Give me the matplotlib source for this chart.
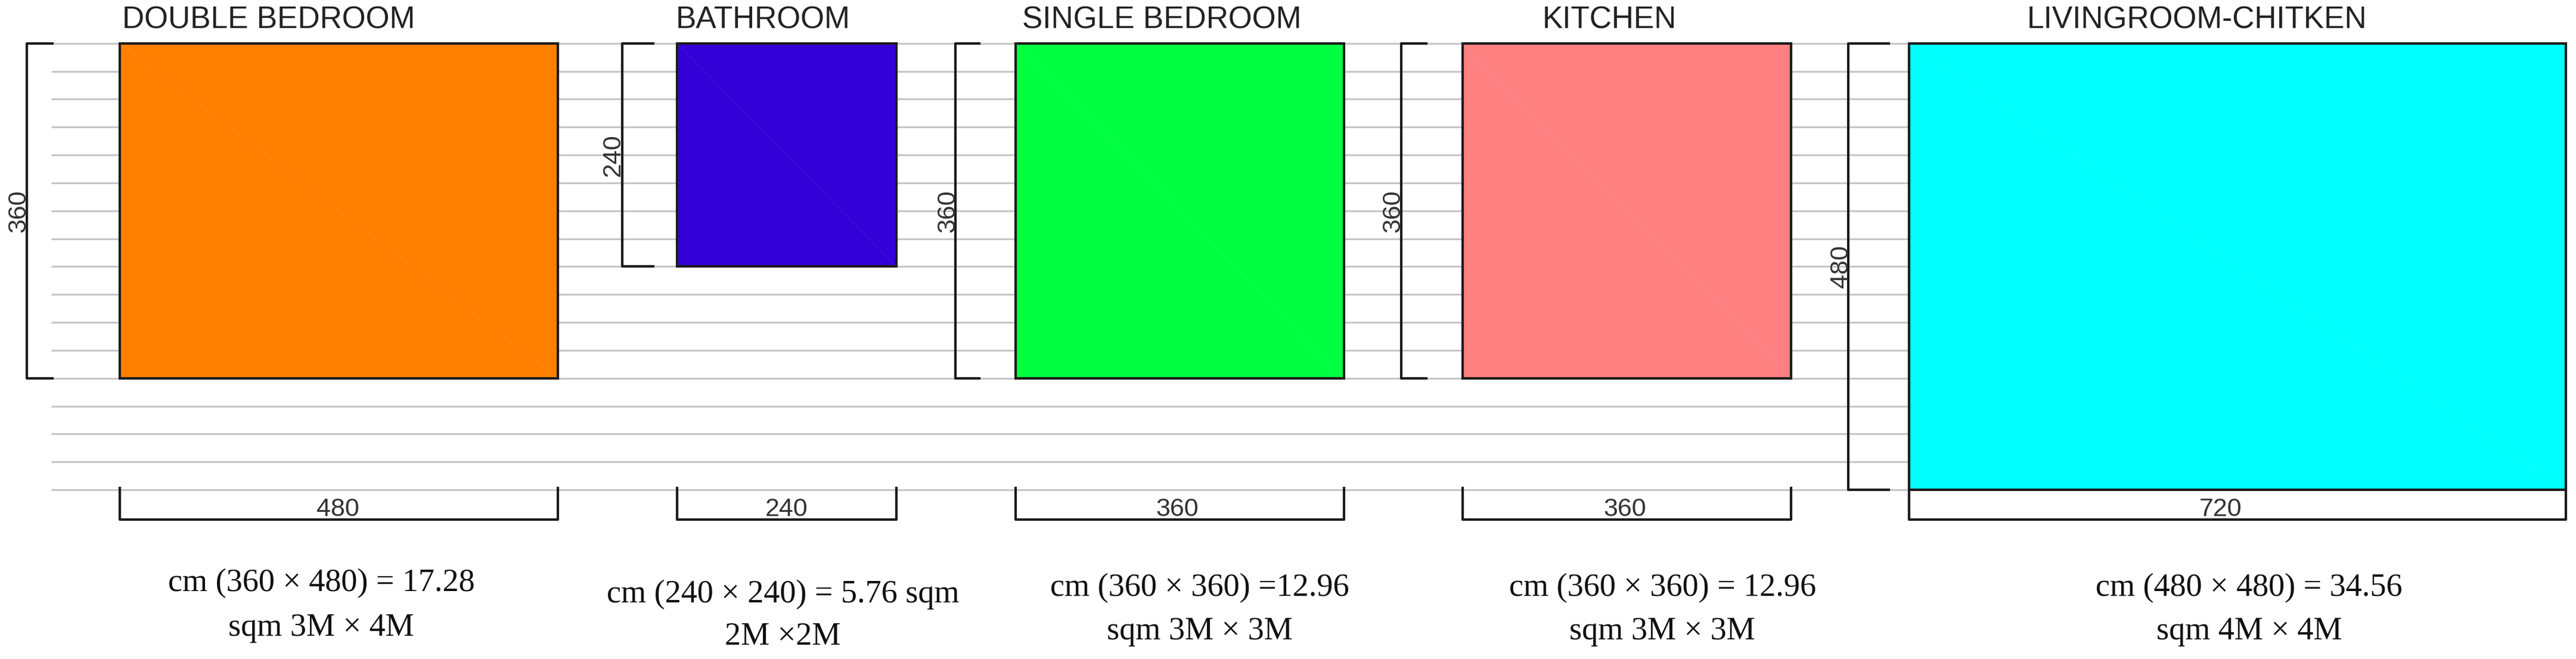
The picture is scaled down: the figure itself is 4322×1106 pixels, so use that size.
import matplotlib.pyplot as plt

#####
# Room data (cm)
roomNames = ['DOUBLE BEDROOM', 'BATHROOM', 'SINGLE BEDROOM', 'KITCHEN', 'LIVINGROOM-CHITKEN']
roomWidths = [480, 240, 360, 360, 720]
roomHeights = [360, 240, 360, 360, 480]
roomColors = ['#ff8000', '#3300d8', '#00ff40', '#ff8080', '#00ffff']
areaLine1 = ['cm (360 × 480) = 17.28', 'cm (240 × 240) = 5.76 sqm', 'cm (360 × 360) =12.96',
             'cm (360 × 360) = 12.96', 'cm (480 × 480) = 34.56']
areaLine2 = ['sqm 3M × 4M', '2M ×2M', 'sqm 3M × 3M', 'sqm 3M × 3M', 'sqm 4M × 4M']
gridLevels = list(range(0, 481, 30))

#####
# Layout, in axis units
roomLeft = [0, 611, 982, 1472, 1961]
topLevel = 480
gridLeft = -75
titleX = [163, 705, 1142, 1633, 2277]
bracketX = [-102, 551, 916, 1405, 1895]
bracketEnd = [-74, 585, 942, 1432, 1939]
sideLabelX = [-111, 541, 908, 1396, 1887]
widthLabelShift = [-1, 0, -3, -2, -18]
areaX = [221, 727, 1184, 1691, 2334]
areaY1 = [-100.6, -112.7, -105.7, -105.7, -105.7]
areaY2 = [-148.6, -158, -152.5, -152.5, -152.5]

plt.rcParams['font.family'] = ['Liberation Sans', 'DejaVu Sans']
darkLine = '#1c1c1c'

fig = plt.figure(figsize=(43.22, 11.06), dpi=100)
ax = fig.add_axes([0, 0, 1, 1])
ax.set_xlim(-131.3, 2692.4)
ax.set_ylim(-181.9, 526.6)
ax.axis('off')

# gray lines run behind all of the rooms
ax.hlines(gridLevels, gridLeft, roomLeft[-1] + roomWidths[-1], color='#c6c6c6', lw=2.2, zorder=1)

for i in range(len(roomNames)):
    left = roomLeft[i]
    w = roomWidths[i]
    h = roomHeights[i]
    bottom = topLevel - h
    centre = left + w / 2

    ax.bar(left, h, width=w, bottom=bottom, align='edge', color=roomColors[i],
           edgecolor=darkLine, linewidth=3, zorder=2)
    # faint diagonal seen across each room
    ax.plot([left, left + w], [topLevel, bottom], color='white', alpha=0.04, lw=2, zorder=3)

    # height bracket
    ax.plot([bracketEnd[i], bracketX[i], bracketX[i], bracketEnd[i]],
            [topLevel, topLevel, bottom, bottom], color=darkLine, lw=3, zorder=3)
    ax.text(sideLabelX[i], topLevel - h / 2, str(h), rotation=90, ha='center', va='center',
            fontsize=31, color='#333333', zorder=4)

    # width bracket
    ax.plot([left, left, left + w, left + w], [2, -32, -32, 2], color=darkLine, lw=3, zorder=3)
    ax.text(centre + widthLabelShift[i], -21, str(w), ha='center', va='center',
            fontsize=31, color='#333333', zorder=4)

    ax.text(titleX[i], 505, roomNames[i], ha='center', va='center', fontsize=37,
            color='#222222', zorder=4)
    ax.text(areaX[i], areaY1[i], areaLine1[i], ha='center', va='center', fontsize=39,
            family='Liberation Serif', color='#111111', zorder=4)
    ax.text(areaX[i], areaY2[i], areaLine2[i], ha='center', va='center', fontsize=39,
            family='Liberation Serif', color='#111111', zorder=4)

fig.savefig('out.png', dpi=100, facecolor='white')
